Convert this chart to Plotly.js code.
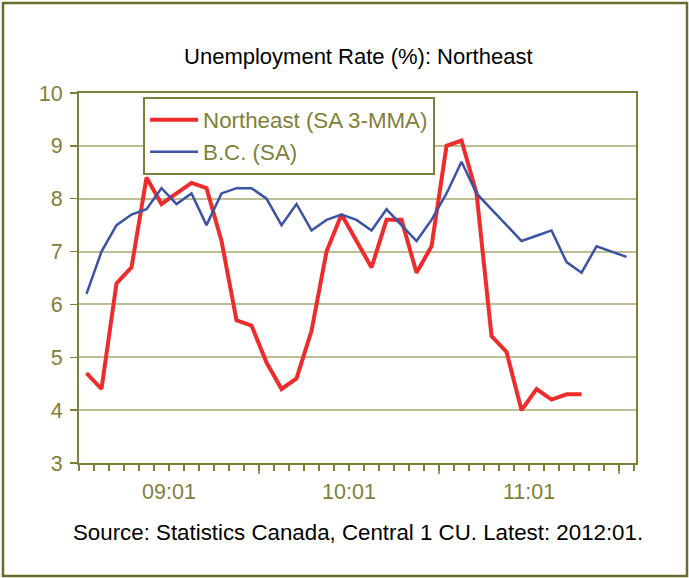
<!DOCTYPE html>
<html>
<head>
<meta charset="utf-8">
<script src="https://cdn.plot.ly/plotly-3.0.1.min.js"></script>
<style>
  html, body { margin: 0; padding: 0; background: #ffffff; }
  #chart { width: 689px; height: 578px; }
</style>
</head>
<body>
<div id="chart"></div>
<script>
// Monthly data, 2009:01 .. 2012:01
const months = ["09:01","09:02","09:03","09:04","09:05","09:06","09:07","09:08","09:09","09:10","09:11","09:12",
                "10:01","10:02","10:03","10:04","10:05","10:06","10:07","10:08","10:09","10:10","10:11","10:12",
                "11:01","11:02","11:03","11:04","11:05","11:06","11:07","11:08","11:09","11:10","11:11","11:12",
                "12:01"];
const northeast = [4.7, 4.4, 6.4, 6.7, 8.4, 7.9, 8.1, 8.3, 8.2, 7.2, 5.7, 5.6,
                   4.9, 4.4, 4.6, 5.5, 7.0, 7.7, 7.2, 6.7, 7.6, 7.6, 6.6, 7.1,
                   9.0, 9.1, 8.1, 5.4, 5.1, 4.0, 4.4, 4.2, 4.3, 4.3];
const bc = [6.2, 7.0, 7.5, 7.7, 7.8, 8.2, 7.9, 8.1, 7.5, 8.1, 8.2, 8.2,
            8.0, 7.5, 7.9, 7.4, 7.6, 7.7, 7.6, 7.4, 7.8, 7.5, 7.2, 7.6,
            8.1, 8.7, 8.1, 7.8, 7.5, 7.2, 7.3, 7.4, 6.8, 6.6, 7.1, 7.0, 6.9];
const yearLabels = ["09:01", "10:01", "11:01"];
const yTicks = [3, 4, 5, 6, 7, 8, 9, 10];

const idx = months.map((m, i) => i);
const labelPos = yearLabels.map(l => months.indexOf(l) + 5.5);
const yearBounds = yearLabels.map(l => months.indexOf(l) + 11.5);

const olive = '#7f7f3c';
const oliveText = '#80803a';
const grid = '#bebe94';
const plotH = 370;

const traces = [
  { x: idx.slice(0, northeast.length), y: northeast, type: 'scatter', mode: 'lines',
    name: 'Northeast (SA 3-MMA)', line: { color: '#ee2c2c', width: 4 } },
  { x: idx, y: bc, type: 'scatter', mode: 'lines',
    name: 'B.C. (SA)', line: { color: '#3a53a4', width: 2.5 } }
];

const shapes = [
  { type: 'rect', xref: 'paper', yref: 'paper',
    x0: (3 - 79) / 557, x1: (687 - 79) / 557, y0: (463 - 576) / 370, y1: (463 - 3) / 370,
    line: { color: '#6b6b2e', width: 2.5 }, fillcolor: 'rgba(0,0,0,0)', layer: 'below' }
];
// longer tick marks at the year boundaries
yearBounds.forEach(b => shapes.push({
  type: 'line', xref: 'x', yref: 'paper', x0: b, x1: b, y0: 0, y1: -11 / plotH,
  line: { color: olive, width: 1.5 }
}));

const xr = [-0.5, 36.63];
const layout = {
  width: 689, height: 578,
  margin: { l: 79, r: 53, t: 93, b: 115 },
  paper_bgcolor: '#ffffff', plot_bgcolor: '#ffffff',
  font: { family: 'Liberation Sans, Arial, sans-serif', color: oliveText, size: 22 },
  title: { text: 'Unemployment Rate (%): Northeast', font: { size: 22, color: '#000000' },
           x: 0.52, xanchor: 'center', y: 0.903, yanchor: 'middle' },
  showlegend: true,
  legend: { x: 0.115, y: 0.99, xanchor: 'left', yanchor: 'top', bgcolor: '#ffffff',
            bordercolor: olive, borderwidth: 2, font: { size: 22.3, color: oliveText },
            itemwidth: 48, tracegroupgap: 0 },
  xaxis: { range: xr, tickmode: 'array', tickvals: labelPos, ticktext: yearLabels,
           ticks: 'outside', ticklen: 6, tickwidth: 1.5, tickcolor: olive,
           ticklabelstandoff: 2,
           tickfont: { size: 21.5, color: oliveText },
           showline: true, linecolor: olive, linewidth: 2, mirror: true,
           showgrid: false, zeroline: false,
           minor: { tick0: -0.5, dtick: 1, ticks: 'outside', ticklen: 6, tickwidth: 1.5, tickcolor: olive, showgrid: false } },
  yaxis: { range: [3, 10], tickmode: 'array', tickvals: yTicks, ticktext: yTicks.map(String),
           ticks: 'outside', ticklen: 7, tickwidth: 1.5, tickcolor: olive,
           ticklabelstandoff: 3,
           showline: true, linecolor: olive, linewidth: 2, mirror: true,
           showgrid: true, gridcolor: grid, gridwidth: 2, zeroline: false,
           tickfont: { size: 21.5, color: oliveText } },
  annotations: [
    { text: 'Source: Statistics Canada, Central 1 CU. Latest: 2012:01.', xref: 'paper', yref: 'paper',
      x: 0.5, y: -0.189, xanchor: 'center', yanchor: 'middle', showarrow: false,
      font: { size: 22.3, color: '#000000' } }
  ],
  shapes: shapes
};

Plotly.newPlot('chart', traces, layout, { displayModeBar: false, staticPlot: true });
</script>
</body>
</html>
